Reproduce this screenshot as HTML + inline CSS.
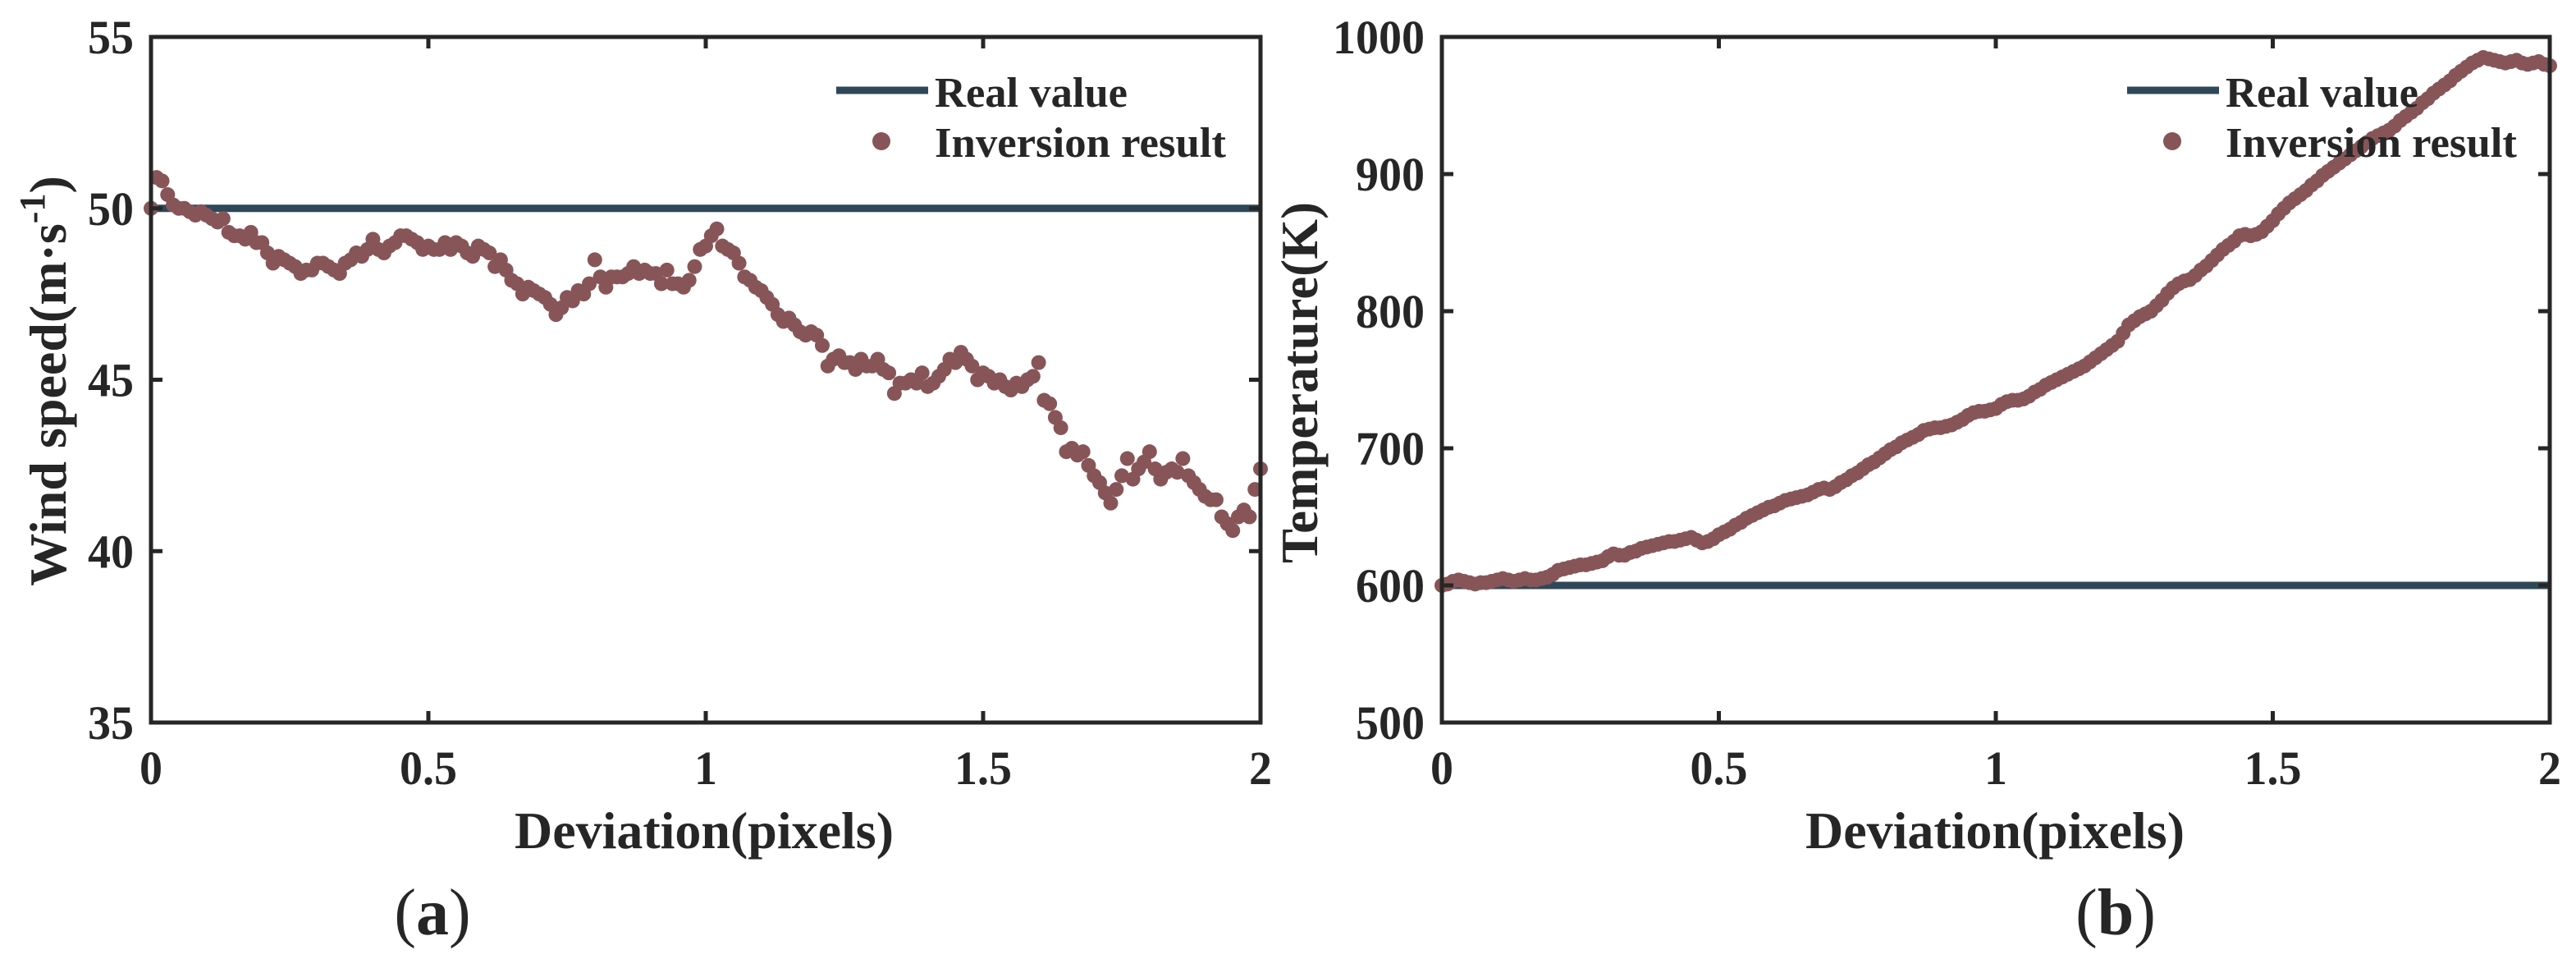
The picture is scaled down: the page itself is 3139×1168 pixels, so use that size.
<!DOCTYPE html>
<html><head><meta charset="utf-8"><style>
html,body{margin:0;padding:0;background:#fff;}
svg{display:block;}
text{font-family:"Liberation Serif",serif;font-weight:bold;fill:#262626;}
</style></head><body>
<svg id="fig" width="3139" height="1168" viewBox="0 0 3139 1168" xmlns="http://www.w3.org/2000/svg">
</svg>
<script>
// Panel (a) wind speed, x step 0.01 from 0 to 2
const windXStep = 0.01;
const windValues = [50.0,50.9,50.8,50.4,50.1,50.0,50.0,49.9,49.8,49.9,
49.8,49.7,49.6,49.7,49.3,49.2,49.2,49.1,49.3,49.0,
49.0,48.7,48.4,48.6,48.5,48.4,48.3,48.1,48.2,48.2,
48.4,48.4,48.3,48.2,48.1,48.4,48.5,48.7,48.6,48.8,
49.1,48.8,48.7,48.9,49.0,49.2,49.2,49.1,49.0,48.8,
48.9,48.8,48.8,49.0,48.8,49.0,48.9,48.7,48.6,48.9,
48.8,48.7,48.3,48.5,48.2,47.9,47.8,47.5,47.7,47.6,
47.5,47.4,47.2,46.9,47.1,47.4,47.3,47.6,47.5,47.8,
48.5,48.0,47.7,48.0,48.0,48.0,48.1,48.3,48.1,48.2,
48.1,48.1,47.8,48.2,47.8,47.8,47.7,47.9,48.3,48.8,
48.9,49.2,49.4,48.9,48.8,48.7,48.4,48.0,47.9,47.7,
47.6,47.4,47.2,46.9,46.7,46.8,46.6,46.4,46.3,46.4,
46.3,46.0,45.4,45.6,45.7,45.5,45.5,45.3,45.6,45.4,
45.4,45.6,45.3,45.2,44.6,44.9,44.9,45.0,44.9,45.2,
44.8,44.9,45.1,45.3,45.6,45.5,45.8,45.6,45.4,45.0,
45.2,45.1,44.9,45.0,44.8,44.7,44.9,44.8,45.0,45.1,
45.5,44.4,44.3,43.9,43.6,42.9,43.0,42.8,42.9,42.5,
42.2,42.0,41.7,41.4,41.8,42.2,42.7,42.1,42.4,42.6,
42.9,42.4,42.1,42.3,42.4,42.3,42.7,42.2,42.0,41.8,
41.6,41.5,41.5,41.0,40.8,40.6,41.0,41.2,41.0,41.8,42.4];
const windReal = 50;
const windTicks = [35,40,45,50,55];
// Panel (b) temperature
const tempXStep = 0.01;
const tempValues = [600,601,603,604,603,602,601,602,602,603,
604,605,604,603,604,605,604,604,605,606,
608,611,612,613,614,615,615,616,617,618,
621,623,622,622,624,625,627,628,629,630,
631,632,632,633,634,635,633,631,632,634,
637,639,641,644,646,649,651,653,655,657,
658,660,662,663,664,665,666,668,670,671,
670,672,675,677,680,682,685,688,690,693,
696,699,701,704,706,708,710,713,714,715,
715,716,717,719,721,724,726,727,727,728,
729,732,734,735,735,736,738,741,743,746,
748,750,752,754,756,758,760,763,766,769,
772,775,778,784,790,793,796,798,800,804,
808,813,817,820,822,823,826,830,833,837,
841,845,848,851,855,856,855,856,858,862,
866,871,875,879,882,885,888,892,895,899,
902,905,908,911,914,917,920,923,926,928,
930,932,935,939,942,945,948,952,955,959,
962,965,968,972,975,978,981,983,985,984,
983,982,981,982,983,981,980,981,982,980,979];
const tempReal = 600;
const tempTicks = [500,600,700,800,900,1000];
const xTicks = [0,0.5,1,1.5,2];
const xTickLabels = ["0","0.5","1","1.5","2"];

const NS="http://www.w3.org/2000/svg";
const svg=document.getElementById('fig');
function el(tag,attrs,parent){const e=document.createElementNS(NS,tag);for(const k in attrs)e.setAttribute(k,attrs[k]);(parent||svg).appendChild(e);return e;}
function labW(s){let w=0;for(const c of s)w+=(c==='.'?14:28);return w;}

function panel(o){
  const g=el('g',{});
  
  
  const sx=v=>o.x0+(v-0)/(2-0)*(o.x1-o.x0);
  const sy=v=>o.y1-(v-o.ymin)/(o.ymax-o.ymin)*(o.y1-o.y0);
  const rl=el('line',{x1:sx(0),x2:sx(2),y1:sy(o.real),y2:sy(o.real),stroke:'#2f4858','stroke-width':9},g);
  
  
  const dg=el('g',{fill:'#875558'},g);
  
  
  o.values.forEach((v,i)=>{
    const c=el('circle',{cx:sx(i*o.step),cy:sy(v),r:9},dg);
    
    
  });
  const fr=el('rect',{x:o.x0,y:o.y0,width:o.x1-o.x0,height:o.y1-o.y0,fill:'none',stroke:'#262626','stroke-width':5},g);
  
  
  xTicks.forEach((t,i)=>{
    const x=sx(t);
    el('line',{x1:x,x2:x,y1:o.y1,y2:o.y1-14,stroke:'#262626','stroke-width':5},g);
    el('line',{x1:x,x2:x,y1:o.y0,y2:o.y0+14,stroke:'#262626','stroke-width':5},g);
    const s=xTickLabels[i];
    const tx=el('text',{x:x,y:955,'font-size':58,'text-anchor':'middle',textLength:labW(s),lengthAdjust:'spacingAndGlyphs'},g);
    tx.textContent=s;
    
    
  });
  o.ticks.forEach(t=>{
    const y=sy(t);
    el('line',{x1:o.x0,x2:o.x0+14,y1:y,y2:y,stroke:'#262626','stroke-width':5},g);
    el('line',{x1:o.x1,x2:o.x1-14,y1:y,y2:y,stroke:'#262626','stroke-width':5},g);
    const s=String(t);
    const tx=el('text',{x:o.x0-21,y:y+20,'font-size':58,'text-anchor':'end',textLength:labW(s),lengthAdjust:'spacingAndGlyphs'},g);
    tx.textContent=s;
    
    
  });
  const xt=el('text',{x:o.x0+443,y:1033,'font-size':64,textLength:462,lengthAdjust:'spacingAndGlyphs'},g);
  xt.textContent='Deviation(pixels)';
  
  
  const lx=o.x0+835;
  el('line',{x1:lx,x2:lx+112,y1:110,y2:110,stroke:'#2f4858','stroke-width':9},g);
  const l1=el('text',{x:lx+120,y:130,'font-size':52,textLength:235,lengthAdjust:'spacingAndGlyphs'},g);
  l1.textContent='Real value';
  
  
  el('circle',{cx:lx+55,cy:172,r:11,fill:'#875558'},g);
  const l2=el('text',{x:lx+120,y:191,'font-size':52,textLength:355,lengthAdjust:'spacingAndGlyphs'},g);
  l2.textContent='Inversion result';
  
  
  const pl=el('text',{x:o.labX,y:1138,'font-size':80,'text-anchor':'middle'},g);
  pl.innerHTML='<tspan font-weight="normal">(</tspan>'+o.lab+'<tspan font-weight="normal">)</tspan>';
  
  
  return g;
}
panel({name:'wind',x0:184,x1:1536,y0:45,y1:880,ymin:35,ymax:55,values:windValues,step:windXStep,real:windReal,ticks:windTicks,labX:527,lab:'a'});
panel({name:'temperature',x0:1757,x1:3107,y0:45,y1:880,ymin:500,ymax:1000,values:tempValues,step:tempXStep,real:tempReal,ticks:tempTicks,labX:2578,lab:'b'});

const yt1=el('text',{transform:'translate(80,464) rotate(-90)','font-size':64,'text-anchor':'middle'});
yt1.innerHTML='Wind speed(m·s<tspan font-size="44" dy="-26">-1</tspan><tspan dy="26">)</tspan>';


const yt2=el('text',{transform:'translate(1605,466) rotate(-90)','font-size':64,'text-anchor':'middle',textLength:440,lengthAdjust:'spacingAndGlyphs'});
yt2.textContent='Temperature(K)';


</script>
</body></html>
